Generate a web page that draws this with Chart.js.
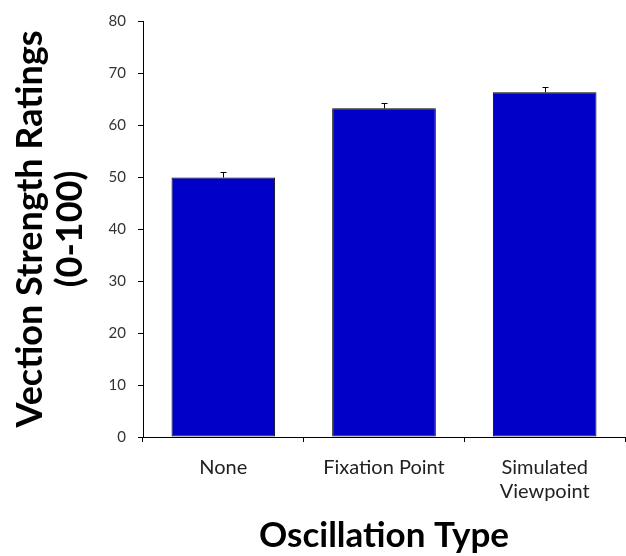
<!DOCTYPE html>
<html lang="en">
  <head>
    <meta charset="UTF-8" />
    <title>Vection strength</title>
    <style>
      * {
        margin: 0;
        padding: 0;
        box-sizing: border-box;
      }
      body {
        background: white;
      }
      .chartBox {
        width: 626px;
        height: 556px;
      }
    </style>
  </head>
  <body>
    <div class="chartBox">
      <canvas id="myChart"></canvas>
    </div>

    <script src="https://cdn.jsdelivr.net/npm/chart.js"></script>

    <script>
      const categories = ["None", "Fixation Point", ["Simulated", "Viewpoint"]];
      const ratings = [49.9, 63.2, 66.3];
      const errors = [1.0, 1.0, 1.1];
      const yTicks = [0, 10, 20, 30, 40, 50, 60, 70, 80];

      // excel style "plus" error bars on top of each bar
      const errorBars = {
        id: "errorBars",
        afterDatasetsDraw(chart) {
          const { ctx, scales: { x, y } } = chart;
          ctx.save();
          ctx.strokeStyle = "#000";
          ctx.lineWidth = 1;
          ratings.forEach((v, i) => {
            const px = Math.round(x.getPixelForValue(i)) + 0.5;
            const top = Math.round(y.getPixelForValue(v + errors[i])) + 0.5;
            const base = y.getPixelForValue(v);
            ctx.beginPath();
            ctx.moveTo(px, base);
            ctx.lineTo(px, top);
            ctx.moveTo(px - 3, top);
            ctx.lineTo(px + 3, top);
            ctx.stroke();
          });
          ctx.restore();
        },
      };

      const data = {
        labels: categories,
        datasets: [
          {
            data: ratings,
            backgroundColor: "#0000c8",
            borderColor: "#000",
            borderWidth: 1,
            borderSkipped: false,
            barPercentage: 0.645,
            categoryPercentage: 1,
          },
        ],
      };

      const config = {
        type: "bar",
        data: data,
        options: {
          responsive: true,
          maintainAspectRatio: false,
          animation: false,
          layout: { padding: { top: 20, right: 1, left: 0, bottom: 0 } },
          plugins: {
            legend: { display: false },
            tooltip: { enabled: false },
          },
          scales: {
            x: {
              afterFit: (s) => {
                s.height = 119;
              },
              border: { color: "#000", width: 1 },
              grid: {
                offset: true,
                drawOnChartArea: false,
                drawTicks: true,
                tickLength: 5,
                color: "#000",
              },
              ticks: {
                color: "#222",
                padding: 14,
                font: { family: "Lato", size: 20, lineHeight: 1.2 },
              },
              title: {
                display: true,
                text: "Oscillation Type",
                color: "#000",
                font: { family: "Lato", size: 35, weight: "bold", lineHeight: 1 },
                padding: { top: 0, bottom: 3 },
              },
            },
            y: {
              min: 0,
              max: 80,
              afterFit: (s) => {
                s.width = 143;
              },
              afterBuildTicks: (s) => {
                s.ticks = yTicks.map((v) => ({ value: v }));
              },
              border: { color: "#000", width: 1 },
              grid: {
                drawOnChartArea: false,
                drawTicks: true,
                tickLength: 5,
                color: "#000",
              },
              ticks: {
                color: "#333",
                padding: 12,
                font: { family: "Lato", size: 15 },
              },
              title: {
                display: true,
                text: ["Vection Strength Ratings", "(0-100)"],
                color: "#000",
                font: { family: "Lato", size: 36, weight: "bold", lineHeight: 1.11 },
                padding: { top: 10, bottom: 0 },
              },
            },
          },
        },
        plugins: [errorBars],
      };

      const myChart = new Chart(document.getElementById("myChart"), config);
    </script>
  </body>
</html>
